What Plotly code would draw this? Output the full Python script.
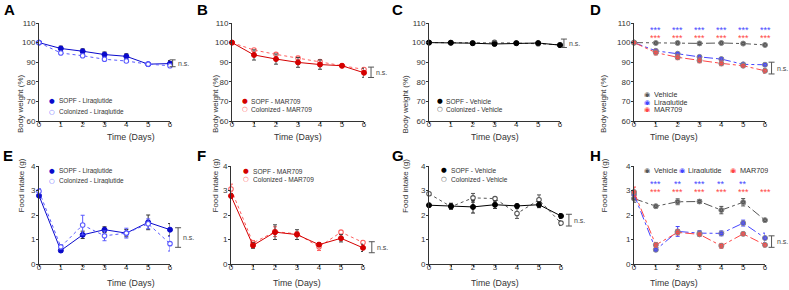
import plotly.graph_objects as go

W, H = 789, 290
FONT = "Liberation Sans, Arial, sans-serif"

days = [0, 1, 2, 3, 4, 5, 6]

# ---- Body weight (%) ----
A_sopf = [100, 97.0, 95.6, 93.9, 93.0, 89.0, 89.3]
A_sopf_err = [0, 1.2, 1.2, 1.3, 1.3, 0.6, 1.5]
A_col = [100, 94.7, 93.3, 91.5, 90.6, 89.0, 88.2]
A_col_err = [0, 0.7, 0.7, 0.8, 0.8, 0.5, 0.9]

B_sopf = [100, 93.7, 91.6, 89.9, 88.8, 88.2, 84.6]
B_sopf_err = [0, 2.6, 2.6, 2.5, 2.4, 0.6, 2.3]
B_col = [100, 96.2, 94.0, 92.1, 90.3, 88.2, 86.3]
B_col_err = [0, 0.8, 0.8, 0.9, 1.0, 0.5, 1.0]

C_sopf = [100, 99.9, 99.7, 99.3, 99.7, 99.8, 98.7]
C_sopf_err = [0, 0.4, 0.4, 0.5, 0.4, 0.4, 0.6]
C_col = [100, 100.0, 99.8, 100.1, 99.8, 99.4, 98.9]
C_col_err = [0, 0.3, 0.3, 0.4, 0.3, 0.4, 0.5]

D_veh = [100, 99.8, 99.8, 99.6, 99.8, 99.5, 98.8]
D_veh_err = [0, 0.3, 0.3, 0.3, 0.3, 0.3, 0.4]
D_lira = [100, 95.8, 94.3, 92.7, 91.6, 88.9, 88.7]
D_lira_err = [0, 0.7, 0.7, 0.8, 0.8, 0.4, 0.8]
D_mar = [100, 94.9, 92.5, 90.9, 89.4, 88.2, 85.6]
D_mar_err = [0, 1.2, 1.2, 1.2, 1.2, 0.5, 1.2]

# ---- Food intake (g) ----
E_sopf = [2.79, 0.55, 1.19, 1.40, 1.26, 1.70, 1.40]
E_sopf_err = [0.08, 0.07, 0.15, 0.12, 0.15, 0.30, 0.25]
E_col = [2.97, 0.70, 1.59, 1.15, 1.26, 1.64, 0.83]
E_col_err = [0.10, 0.08, 0.40, 0.20, 0.20, 0.20, 0.30]

F_sopf = [2.78, 0.76, 1.30, 1.20, 0.79, 1.05, 0.66]
F_sopf_err = [0.10, 0.12, 0.30, 0.20, 0.08, 0.15, 0.15]
F_col = [3.06, 0.86, 1.32, 1.23, 0.70, 1.30, 0.88]
F_col_err = [0.20, 0.10, 0.20, 0.10, 0.15, 0.06, 0.08]

G_sopf = [2.40, 2.36, 2.33, 2.42, 2.37, 2.42, 1.96]
G_sopf_err = [0.0, 0.12, 0.25, 0.15, 0.07, 0.12, 0.10]
G_col = [2.87, 2.34, 2.70, 2.67, 2.06, 2.62, 1.67]
G_col_err = [0.05, 0.10, 0.18, 0.05, 0.20, 0.20, 0.10]

H_veh = [2.67, 2.36, 2.54, 2.55, 2.20, 2.52, 1.79]
H_veh_err = [0.15, 0.07, 0.12, 0.08, 0.15, 0.15, 0.07]
H_lira = [2.84, 0.58, 1.33, 1.26, 1.25, 1.67, 1.06]
H_lira_err = [0.10, 0.07, 0.20, 0.10, 0.10, 0.12, 0.20]
H_mar = [2.94, 0.78, 1.29, 1.21, 0.74, 1.23, 0.78]
H_mar_err = [0.20, 0.10, 0.10, 0.07, 0.10, 0.07, 0.08]

# n.s. brackets: (x in days, low, high)
ns_brackets = {
    "A": (6.12, 87.7, 91.2), "B": (6.32, 82.2, 87.5),
    "C": (6.18, 97.5, 101.8), "D": (6.3, 84.0, 90.0),
    "E": (6.37, 0.68, 1.48), "F": (6.4, 0.46, 0.91),
    "G": (6.36, 1.55, 2.03), "H": (6.3, 0.68, 1.15),
}

# significance stars
D_stars_lira = ["***", "***", "***", "***", "***", "***"]
D_stars_mar = ["***", "***", "***", "***", "***", "***"]
H_stars_lira = ["***", "**", "***", "**", "**", ""]
H_stars_mar = ["***", "***", "***", "***", "***", "***"]
D_star_y = (107.0, 103.2)
H_star_y = (3.32, 3.01)

BLUE_D, BLUE_L = "#0a0acc", "#5a5aff"
RED_D, RED_L = "#d40000", "#ff6060"
BLK, GRY = "#000000", "#555555"
BLUE_M, RED_M, GRY_M = "#4545ff", "#ff4545", "#555555"

# layout in pixels
top_y = (23, 121)
bot_y = (166, 264)
xpx = {"A": (39, 170), "B": (232, 364), "C": (429, 560), "D": (634, 765),
       "E": (39, 170), "F": (231, 363), "G": (429, 561), "H": (634, 765)}
order = ["A", "B", "C", "D", "E", "F", "G", "H"]
EXT = 20  # px of extra room right of each panel for n.s. brackets

def px(x):
    return x / W

def py(y):
    return 1 - y / H

fig = go.Figure()
annotations = []

def add_series(idx, y, err, color, filled, dash, symbol="circle", errc="#333333", mcolor=None, lcolor=None):
    suffix = "" if idx == 1 else str(idx)
    if filled:
        marker = dict(symbol=symbol, size=5, color=mcolor or color,
                      line=dict(color=lcolor or color, width=1))
    else:
        marker = dict(symbol="circle", size=4.5, color="white",
                      line=dict(color=color, width=1.1))
    fig.add_trace(go.Scatter(
        x=days, y=y, mode="lines+markers", xaxis="x" + suffix, yaxis="y" + suffix,
        line=dict(color=color, width=1, dash=dash), marker=marker,
        error_y=dict(type="data", array=err, color=errc, thickness=1, width=2),
        cliponaxis=False, showlegend=False, hoverinfo="skip"))

panel_series = {
    "A": [(A_sopf, A_sopf_err, BLUE_D, True, "solid", "circle", "#333333"),
          (A_col, A_col_err, BLUE_L, False, "dot", "circle", "#5a5aff")],
    "B": [(B_col, B_col_err, RED_L, False, "dot", "circle", "#ff6060"),
          (B_sopf, B_sopf_err, RED_D, True, "solid", "circle", "#444444")],
    "C": [(C_col, C_col_err, GRY, False, "dot", "circle", "#555555"),
          (C_sopf, C_sopf_err, BLK, True, "solid", "circle", "#222222")],
    "E": [(E_sopf, E_sopf_err, BLUE_D, True, "solid", "circle", "#333333"),
          (E_col, E_col_err, BLUE_L, False, "dot", "circle", "#5a5aff")],
    "F": [(F_col, F_col_err, RED_L, False, "dot", "circle", "#ff6060"),
          (F_sopf, F_sopf_err, RED_D, True, "solid", "circle", "#444444")],
    "G": [(G_col, G_col_err, GRY, False, "dot", "circle", "#555555"),
          (G_sopf, G_sopf_err, BLK, True, "solid", "circle", "#222222")],
}

for i, key in enumerate(order, start=1):
    if key in panel_series:
        for (y, err, c, filled, dash, sym, errc) in panel_series[key]:
            add_series(i, y, err, c, filled, dash, sym, errc)

# D and H: three groups
for i, key, veh, vehe, lira, lirae, mar, mare in [
        (4, "D", D_veh, D_veh_err, D_lira, D_lira_err, D_mar, D_mar_err),
        (8, "H", H_veh, H_veh_err, H_lira, H_lira_err, H_mar, H_mar_err)]:
    for y, err, c in [(veh, vehe, GRY_M), (lira, lirae, BLUE_M), (mar, mare, RED_M)]:
        add_series(i, y, err, c, True, "dashdot", "circle-dot", c, mcolor=c, lcolor="#888888")

# n.s. brackets on hidden, wider x axes (x9..x16) sharing each panel's day scale
for i, key in enumerate(order, start=1):
    ysuf = "" if i == 1 else str(i)
    xa = "x" + str(8 + i)
    bx, lo, hi = ns_brackets[key]
    fig.add_trace(go.Scatter(
        x=[bx], y=[(lo + hi) / 2], mode="markers", xaxis=xa, yaxis="y" + ysuf,
        marker=dict(size=1, color="rgba(0,0,0,0)"),
        error_y=dict(type="data", array=[(hi - lo) / 2], color="#555555", thickness=1, width=3),
        cliponaxis=False, showlegend=False, hoverinfo="skip"))
    annotations.append(dict(x=bx, y=(lo + hi) / 2, xref=xa, yref="y" + ysuf,
                            text="n.s.", showarrow=False, xanchor="left", xshift=3,
                            font=dict(size=7, family=FONT, color="#444444")))

# axes
layout = dict(width=W, height=H, margin=dict(l=0, r=0, t=0, b=0, autoexpand=False),
              plot_bgcolor="rgba(0,0,0,0)", paper_bgcolor="white", showlegend=False,
              font=dict(family=FONT, color="#333333"))
for i, key in enumerate(order, start=1):
    suffix = "" if i == 1 else str(i)
    top = i <= 4
    ypx = top_y if top else bot_y
    x0, x1 = xpx[key]
    layout["xaxis" + suffix] = dict(
        domain=[px(x0), px(x1)], anchor="y" + suffix, range=[0, 6],
        tickvals=days, ticks="outside", ticklen=2, tickwidth=1, tickcolor="#333333",
        ticklabelstandoff=-7,
        showline=True, linecolor="#333333", linewidth=1, showgrid=False, zeroline=False,
        tickfont=dict(size=8, family=FONT, color="#333333"), fixedrange=True)
    scale = (x1 - x0) / 6.0
    layout["xaxis" + str(8 + i)] = dict(
        domain=[px(x0), px(x1 + EXT)], anchor="y" + suffix,
        range=[0, 6 + EXT / scale], visible=False, fixedrange=True)
    layout["yaxis" + suffix] = dict(
        domain=[py(ypx[1]), py(ypx[0])], anchor="x" + suffix,
        range=[60, 110] if top else [0, 4], dtick=10 if top else 1,
        ticks="outside", ticklen=2, tickwidth=1, tickcolor="#333333",
        ticklabelstandoff=-1,
        showline=True, linecolor="#333333", linewidth=1, showgrid=False, zeroline=False,
        tickfont=dict(size=8, family=FONT, color="#333333"), fixedrange=True)
    # axis titles
    ymid = (ypx[0] + ypx[1]) / 2
    ytitle_x = {"A": 14, "B": 209, "C": 405, "D": 610, "E": 14, "F": 208, "G": 405, "H": 610}[key]
    annotations.append(dict(x=px(ytitle_x), y=py(ymid), xref="paper", yref="paper",
                            text="Body weight (%)" if top else "Food intake (g)",
                            textangle=-90, showarrow=False,
                            font=dict(size=8, family=FONT, color="#333333")))
    if top:
        annotations.append(dict(x=px((x0 + x1) / 2), y=py(137), xref="paper", yref="paper",
                                text="Time (Days)", showarrow=False, yanchor="middle",
                                font=dict(size=8.8, family=FONT, color="#333333")))
    else:
        annotations.append(dict(x=px((x0 + x1) / 2), y=0, xref="paper", yref="paper",
                                text="Time (Days)", showarrow=False, yanchor="bottom",
                                font=dict(size=8.8, family=FONT, color="#333333")))

# panel letters
letters = {"A": (2, 10), "B": (195, 10), "C": (390, 10), "D": (588, 10),
           "E": (1, 155), "F": (195, 155), "G": (390, 155), "H": (588, 155)}
for k, (lx, ly) in letters.items():
    annotations.append(dict(x=px(lx), y=py(ly), xref="paper", yref="paper", text="<b>%s</b>" % k,
                            showarrow=False, xanchor="left", yanchor="middle",
                            font=dict(size=15, family=FONT, color="#000000")))

# stars
for xa, ya, slira, smar, (yb, yr) in [("x4", "y4", D_stars_lira, D_stars_mar, D_star_y),
                                       ("x8", "y8", H_stars_lira, H_stars_mar, H_star_y)]:
    for d, s in zip(days[1:], slira):
        if s:
            annotations.append(dict(x=d, y=yb, xref=xa, yref=ya, text=s, showarrow=False,
                                    height=7, valign="top",
                                    font=dict(size=9, family=FONT, color=BLUE_M)))
    for d, s in zip(days[1:], smar):
        if s:
            annotations.append(dict(x=d, y=yr, xref=xa, yref=ya, text=s, showarrow=False,
                                    height=7, valign="top",
                                    font=dict(size=9, family=FONT, color=RED_M)))

# legends (glyph + label)
def leg(gx, tx, y, glyph, color, label, size):
    annotations.append(dict(x=px(gx), y=py(y), xref="paper", yref="paper", text=glyph,
                            showarrow=False, xanchor="center", yanchor="middle",
                            height=6, valign="middle",
                            font=dict(size=size, family="DejaVu Sans", color=color)))
    annotations.append(dict(x=px(tx), y=py(y), xref="paper", yref="paper", text=label,
                            showarrow=False, xanchor="left", yanchor="middle",
                            height=6, valign="middle",
                            font=dict(size=size, family=FONT, color="#333333")))

leg(52, 57, 101, "●", BLUE_D, "SOPF - Liraglutide", 6.5)
leg(52, 57, 112, "○", BLUE_L, "Colonized - Liraglutide", 6.5)
leg(244.5, 249, 101, "●", RED_D, "SOPF - MAR709", 6.6)
leg(244.5, 249, 109, "○", RED_L, "Colonized - MAR709", 6.6)
leg(439.5, 443.5, 101, "●", BLK, "SOPF - Vehicle", 6.6)
leg(439.5, 443.5, 109, "○", GRY, "Colonized - Vehicle", 6.6)
leg(647, 652, 94, "◉", GRY_M, "Vehicle", 7.3)
leg(647, 652, 101.7, "◉", BLUE_M, "Liraglutide", 7.3)
leg(647, 652, 109, "◉", RED_M, "MAR709", 7.3)
leg(52, 57, 171, "●", BLUE_D, "SOPF - Liraglutide", 6.5)
leg(52, 57, 181, "○", BLUE_L, "Colonized - Liraglutide", 6.5)
leg(246, 251, 171, "●", RED_D, "SOPF - MAR709", 6.6)
leg(246, 251, 179.3, "○", RED_L, "Colonized - MAR709", 6.6)
leg(444, 449, 170, "●", BLK, "SOPF - Vehicle", 6.6)
leg(444, 449, 179.3, "○", GRY, "Colonized - Vehicle", 6.6)
leg(647, 652, 170, "◉", GRY_M, "Vehicle", 7.3)
leg(681.7, 686, 170, "◉", BLUE_M, "Liraglutide", 7.3)
leg(733, 737.7, 170, "◉", RED_M, "MAR709", 7.3)

layout["annotations"] = annotations
fig.update_layout(**layout)
fig.write_html("out.html", config={"displayModeBar": False, "staticPlot": True},
               post_script="document.body.style.margin='0';document.body.style.padding='0';")
